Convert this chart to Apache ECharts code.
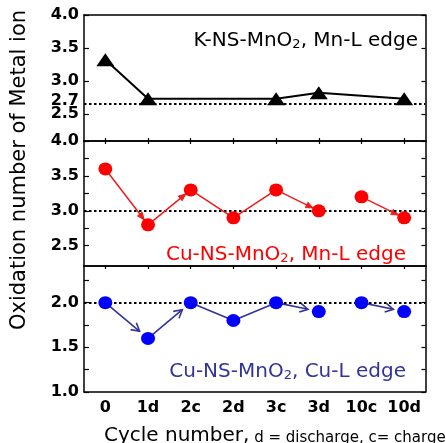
<!DOCTYPE html>
<html>
<head>
<meta charset="utf-8">
<script src="https://cdn.jsdelivr.net/npm/echarts@6/dist/echarts.min.js"></script>
<style>html,body{margin:0;padding:0;background:#fff}#c{width:446px;height:443px}</style>
</head>
<body>
<div id="c"></div>
<script>
var categories = ['0', '1d', '2c', '2d', '3c', '3d', '10c', '10d'];
// K-NS-MnO2, Mn-L edge (black triangles)
var kMn = [3.32, 2.73, null, null, 2.73, 2.82, null, 2.73];
var kRef = 2.65;
// Cu-NS-MnO2, Mn-L edge (red circles)
var cuMn = [3.6, 2.8, 3.3, 2.9, 3.3, 3.0, 3.2, 2.9];
var cuMnRef = 3.0;
// Cu-NS-MnO2, Cu-L edge (blue circles)
var cuCu = [2.0, 1.6, 2.0, 1.8, 2.0, 1.9, 2.0, 1.9];
var cuCuRef = 2.0;
// arrowed segments [from, to]
var redArrows = [[0, 1], [1, 2], [4, 5], [6, 7]];
var blueArrows = [[0, 1], [1, 2], [4, 5], [6, 7]];
// tick labels
var yLabels1 = [2.5, 3.0, 3.5, 4.0];
var yLabels1Extra = [2.7];
var yTicks1 = [2.5, 3.0, 3.5, 4.0];
var yLabels2 = [2.5, 3.0, 3.5, 4.0];
var yTicks2 = [2.5, 2.75, 3.0, 3.25, 3.5, 3.75, 4.0];
var yLabels3 = [1.0, 1.5, 2.0];
var yTicks3 = [1.0, 1.25, 1.5, 1.75, 2.0, 2.25];

var FONT = 'DejaVu Sans';
var chart = echarts.init(document.getElementById('c'), null, {renderer: 'canvas'});

var grids = [
  {left: 84, right: 20.5, top: 15, height: 126},
  {left: 84, right: 20.5, top: 141, height: 125},
  {left: 84, right: 20.5, top: 266, height: 126}
];
var labelStyle = {fontFamily: FONT, fontWeight: 'bold', fontSize: 16, color: '#000'};

function xAxes(gi, showLabels, bottomTicks, topTicks) {
  var common = {type: 'category', data: categories, gridIndex: gi, boundaryGap: true,
    axisLine: {show: true, lineStyle: {color: '#000', width: 1.5}}, splitLine: {show: false}};
  return [
    Object.assign({}, common, {position: 'bottom',
      axisTick: {show: bottomTicks, inside: true, length: 3, alignWithLabel: true, lineStyle: {color: '#000', width: 1.2}},
      axisLabel: Object.assign({show: showLabels, margin: 8, interval: 0, hideOverlap: false}, labelStyle)}),
    Object.assign({}, common, {position: 'top',
      axisTick: {show: topTicks, inside: true, length: 3, alignWithLabel: true, lineStyle: {color: '#000', width: 1.2}},
      axisLabel: {show: false}})
  ];
}
function fmt(v) { return (+v).toFixed(1); }
function yAxes(gi, min, max, labels, ticks) {
  var common = {type: 'value', gridIndex: gi, min: min, max: max, splitLine: {show: false},
    axisLine: {show: true, lineStyle: {color: '#000', width: 1.5}}};
  return [
    Object.assign({}, common, {position: 'left',
      axisTick: {show: true, inside: true, length: 5, customValues: ticks, lineStyle: {color: '#000', width: 1.2}},
      axisLabel: Object.assign({show: true, customValues: labels, hideOverlap: false, formatter: fmt, margin: 5}, labelStyle)}),
    Object.assign({}, common, {position: 'right',
      axisTick: {show: true, inside: true, length: 4, customValues: ticks, lineStyle: {color: '#000', width: 1.2}},
      axisLabel: {show: false}})
  ];
}
// extra left axis in panel 1 carrying only the "2.7" label (it overlaps "2.5" as in the original)
var extraY = {type: 'value', gridIndex: 0, position: 'left', min: 2.09, max: 4.0, splitLine: {show: false},
  axisLine: {show: false}, axisTick: {show: false},
  axisLabel: Object.assign({show: true, customValues: yLabels1Extra, formatter: fmt, margin: 5}, labelStyle)};

function refLine(gi, value) {
  return {type: 'line', xAxisIndex: gi * 2, yAxisIndex: gi * 2, data: [], z: 1, silent: true,
    markLine: {silent: true, symbol: ['none', 'none'], label: {show: false},
      lineStyle: {color: '#000', width: 2, type: [2.5, 2.5]}, data: [{yAxis: value}]}};
}

function arrowData(vals, pairs) {
  return pairs.map(function (p) { return [p[0], vals[p[0]], p[1], vals[p[1]]]; });
}

function arrowSeries(gi, vals, pairs, style) {
  return {
    type: 'custom', xAxisIndex: gi * 2, yAxisIndex: gi * 2, z: 3, silent: true,
    encode: {x: [0, 2], y: [1, 3]},
    data: arrowData(vals, pairs),
    renderItem: function (params, api) {
      var p0 = api.coord([api.value(0), api.value(1)]);
      var p1 = api.coord([api.value(2), api.value(3)]);
      var dx = p1[0] - p0[0], dy = p1[1] - p0[1];
      var len = Math.sqrt(dx * dx + dy * dy);
      var ux = dx / len, uy = dy / len, nx = -uy, ny = ux;
      var tip = [p1[0] - ux * style.gap, p1[1] - uy * style.gap];
      var b1 = [tip[0] - ux * style.L + nx * style.W, tip[1] - uy * style.L + ny * style.W];
      var b2 = [tip[0] - ux * style.L - nx * style.W, tip[1] - uy * style.L - ny * style.W];
      var children = [];
      if (style.shaft) {
        children.push({type: 'polyline', shape: {points: [p0, tip]},
          style: {stroke: style.color, lineWidth: 1.6, fill: null}});
      }
      if (style.filled) {
        children.push({type: 'polygon', shape: {points: [tip, b1, b2]},
          style: {fill: style.color, stroke: style.color, lineWidth: 1}});
      } else {
        children.push({type: 'polyline', shape: {points: [b1, tip, b2]},
          style: {stroke: style.color, lineWidth: 1.6, fill: null}});
      }
      return {type: 'group', children: children};
    }
  };
}

var cuMnA = cuMn.map(function (v, i) { return i <= 5 ? v : null; });
var cuMnB = cuMn.map(function (v, i) { return i >= 6 ? v : null; });
var cuCuLine = cuCu.map(function (v, i) { return (i >= 2 && i <= 4) ? v : null; });

var option = {
  animation: false,
  backgroundColor: '#fff',
  grid: grids,
  xAxis: [].concat(xAxes(0, false, true, false), xAxes(1, false, false, true), xAxes(2, true, false, true)),
  yAxis: [].concat(yAxes(0, 2.09, 4.0, yLabels1, yTicks1), yAxes(1, 2.21, 4.0, yLabels2, yTicks2),
    yAxes(2, 1.0, 2.41, yLabels3, yTicks3), [extraY]),
  series: [
    refLine(0, kRef), refLine(1, cuMnRef), refLine(2, cuCuRef),
    {type: 'line', xAxisIndex: 0, yAxisIndex: 0, data: kMn, connectNulls: true, z: 5,
      symbol: 'triangle', symbolSize: [18, 13], itemStyle: {color: '#000'},
      lineStyle: {color: '#000', width: 2}},
    {type: 'line', xAxisIndex: 2, yAxisIndex: 2, data: cuMnA, z: 5,
      symbol: 'circle', symbolSize: [14, 13], itemStyle: {color: '#ff0000'},
      lineStyle: {color: '#ee1c1c', width: 1.5}},
    {type: 'line', xAxisIndex: 2, yAxisIndex: 2, data: cuMnB, z: 5,
      symbol: 'circle', symbolSize: [14, 13], itemStyle: {color: '#ff0000'},
      lineStyle: {color: '#ee1c1c', width: 1.5}},
    arrowSeries(1, cuMn, redArrows, {gap: 6.5, L: 7, W: 3, color: '#ee1c1c', shaft: false, filled: true}),
    {type: 'line', xAxisIndex: 4, yAxisIndex: 4, data: cuCuLine, z: 4,
      symbol: 'none', lineStyle: {color: '#333399', width: 1.6}},
    arrowSeries(2, cuCu, blueArrows, {gap: 11, L: 8, W: 4.5, color: '#333399', shaft: true, filled: false}),
    {type: 'scatter', xAxisIndex: 4, yAxisIndex: 4, data: cuCu, z: 6,
      symbol: 'circle', symbolSize: [14, 13], itemStyle: {color: '#0000ff', opacity: 1}}
  ],
  graphic: [
    {type: 'text', x: 20, y: 170, rotation: Math.PI / 2, silent: true,
      style: {text: 'Oxidation number of Metal ion', font: '21px "DejaVu Sans"', fill: '#000', align: 'center', verticalAlign: 'middle'}},
    {type: 'text', x: 104, y: 434, silent: true,
      style: {text: '{a|Cycle number,}{b| d = discharge, c= charge}', align: 'left', verticalAlign: 'middle',
        rich: {a: {fontFamily: FONT, fontSize: 20, lineHeight: 24, verticalAlign: 'bottom', fill: '#000'},
               b: {fontFamily: FONT, fontSize: 15, lineHeight: 19, verticalAlign: 'bottom', fill: '#000'}}}},
    {type: 'text', x: 418, y: 39, silent: true,
      style: {text: '{t|K-NS-MnO}{s|2}{t|, Mn-L edge}', align: 'right', verticalAlign: 'middle',
        rich: {t: {fontFamily: FONT, fontSize: 20, lineHeight: 24, verticalAlign: 'bottom', fill: '#000'},
               s: {fontFamily: FONT, fontSize: 13, lineHeight: 13, verticalAlign: 'bottom', fill: '#000'}}}},
    {type: 'text', x: 406, y: 253, silent: true,
      style: {text: '{t|Cu-NS-MnO}{s|2}{t|, Mn-L edge}', align: 'right', verticalAlign: 'middle',
        rich: {t: {fontFamily: FONT, fontSize: 20, lineHeight: 24, verticalAlign: 'bottom', fill: '#ff0000'},
               s: {fontFamily: FONT, fontSize: 13, lineHeight: 13, verticalAlign: 'bottom', fill: '#ff0000'}}}},
    {type: 'text', x: 406, y: 370, silent: true,
      style: {text: '{t|Cu-NS-MnO}{s|2}{t|, Cu-L edge}', align: 'right', verticalAlign: 'middle',
        rich: {t: {fontFamily: FONT, fontSize: 20, lineHeight: 24, verticalAlign: 'bottom', fill: '#333399'},
               s: {fontFamily: FONT, fontSize: 13, lineHeight: 13, verticalAlign: 'bottom', fill: '#333399'}}}}
  ]
};
chart.setOption(option);
</script>
</body>
</html>
